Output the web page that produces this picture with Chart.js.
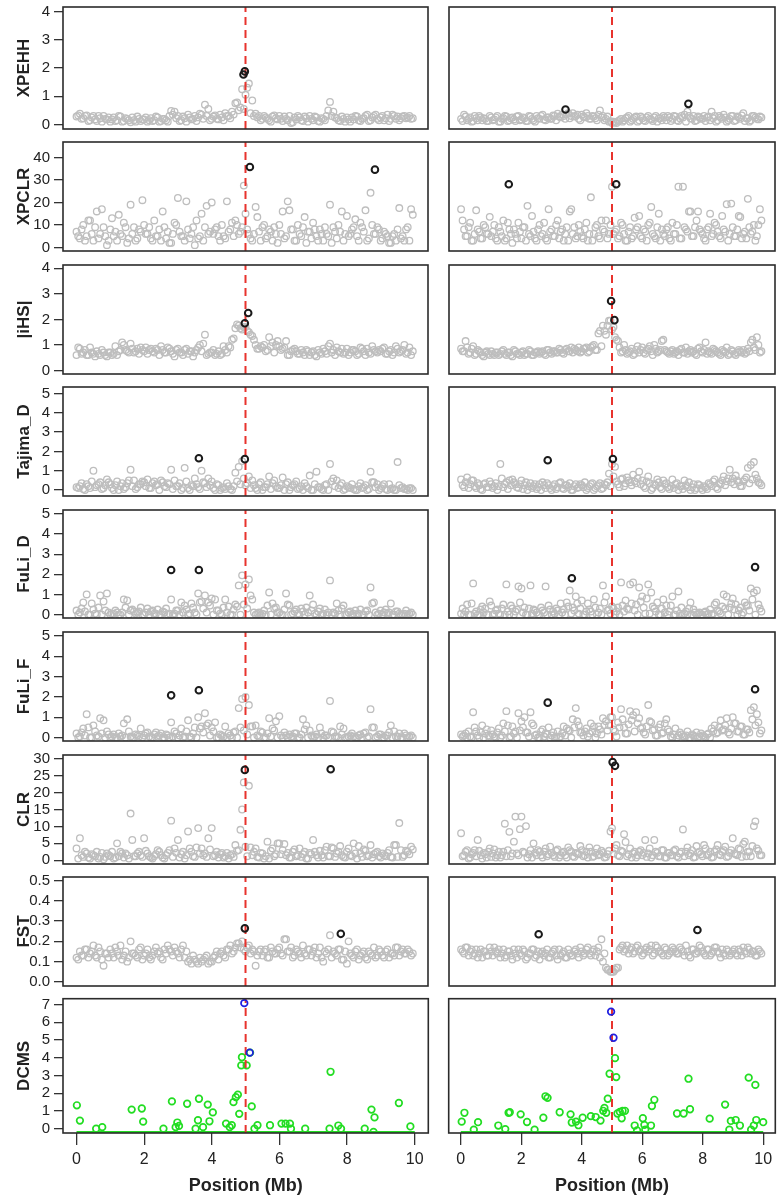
<!DOCTYPE html>
<html>
<head>
<meta charset="utf-8">
<script src="https://cdn.jsdelivr.net/npm/chart.js@4.4.1/dist/chart.umd.min.js"></script>
<style>
html, body { margin: 0; padding: 0; background: #fff; }
body { width: 780px; height: 1197px; position: relative; overflow: hidden; }
.panel { position: absolute; }
</style>
</head>
<body>
<script>
// window positions (Mb), two interleaved sets of windows
const posA = [0.0,0.1,0.2,0.3,0.4,0.5,0.6,0.7,0.8,0.9,1.0,1.1,1.2,1.3,1.4,1.5,1.6,1.7,1.8,1.9,
  2.0,2.1,2.2,2.3,2.4,2.5,2.6,2.7,2.8,2.9,3.0,3.1,3.2,3.3,3.4,3.5,3.6,3.7,3.8,3.9,
  4.0,4.1,4.2,4.3,4.4,4.5,4.6,4.7,4.8,4.9,5.0,5.1,5.2,5.3,5.4,5.5,5.6,5.7,5.8,5.9,
  6.0,6.1,6.2,6.3,6.4,6.5,6.6,6.7,6.8,6.9,7.0,7.1,7.2,7.3,7.4,7.5,7.6,7.7,7.8,7.9,
  8.0,8.1,8.2,8.3,8.4,8.5,8.6,8.7,8.8,8.9,9.0,9.1,9.2,9.3,9.4,9.5,9.6,9.7,9.8,9.9];
const posB = [0.05,0.15,0.25,0.35,0.45,0.55,0.65,0.75,0.85,0.95,1.05,1.15,1.25,1.35,1.45,1.55,1.65,1.75,1.85,1.95,
  2.05,2.15,2.25,2.35,2.45,2.55,2.65,2.75,2.85,2.95,3.05,3.15,3.25,3.35,3.45,3.55,3.65,3.75,3.85,3.95,
  4.05,4.15,4.25,4.35,4.45,4.55,4.65,4.75,4.85,4.95,5.05,5.15,5.25,5.35,5.45,5.55,5.65,5.75,5.85,5.95,
  6.05,6.15,6.25,6.35,6.45,6.55,6.65,6.75,6.85,6.95,7.05,7.15,7.25,7.35,7.45,7.55,7.65,7.75,7.85,7.95,
  8.05,8.15,8.25,8.35,8.45,8.55,8.65,8.75,8.85,8.95,9.05,9.15,9.25,9.35,9.45,9.55,9.65,9.75,9.85,9.95];

// XPEHH
const xpehhLA = [0.28,0.38,0.22,0.32,0.15,0.3,0.12,0.22,0.3,0.18, 0.1,0.25,0.15,0.28,0.12,0.2,0.08,0.15,0.28,0.12,
  0.18,0.1,0.22,0.15,0.25,0.12,0.2,0.1,0.48,0.45, 0.3,0.15,0.22,0.35,0.18,0.3,0.25,0.35,0.7,0.55,
  0.2,0.32,0.18,0.25,0.4,0.3,0.45,0.75,0.5,1.25, 1.05,1.45,0.85,0.38,0.3,0.2,0.25,0.15,0.28,0.22,
  0.3,0.12,0.2,0.3,0.08,0.18,0.25,0.12,0.22,0.3, 0.15,0.25,0.1,0.2,0.3,0.8,0.45,0.22,0.12,0.2,
  0.25,0.1,0.18,0.28,0.12,0.22,0.35,0.15,0.3,0.2, 0.25,0.15,0.35,0.2,0.3,0.28,0.22,0.3,0.25,0.2];
const xpehhLB = [0.32,0.2,0.3,0.12,0.25,0.18,0.3,0.1,0.2,0.25, 0.18,0.12,0.3,0.1,0.22,0.15,0.25,0.1,0.2,0.18,
  0.25,0.15,0.12,0.28,0.1,0.2,0.15,0.3,0.35,0.22, 0.12,0.28,0.1,0.25,0.2,0.12,0.38,0.2,0.3,0.15,
  0.28,0.2,0.35,0.15,0.3,0.22,0.35,0.78,0.6,0.55, 1.3,0.4,0.3,0.25,0.15,0.3,0.2,0.1,0.32,0.18,
  0.2,0.28,0.15,0.05,0.25,0.3,0.15,0.28,0.1,0.2, 0.28,0.12,0.22,0.15,0.5,0.3,0.25,0.15,0.28,0.1,
  0.18,0.25,0.3,0.15,0.2,0.3,0.12,0.25,0.35,0.15, 0.3,0.22,0.12,0.35,0.2,0.15,0.28,0.22,0.3,0.22];
const xpehhLHi = [[4.94,1.77],[4.98,1.88]];
const xpehhRA = [0.2,0.35,0.15,0.25,0.12,0.22,0.3,0.15,0.2,0.12, 0.25,0.18,0.3,0.1,0.22,0.28,0.15,0.25,0.12,0.3,
  0.18,0.22,0.12,0.28,0.15,0.3,0.2,0.35,0.15,0.25, 0.2,0.3,0.38,0.25,0.3,0.35,0.22,0.4,0.3,0.2,
  0.35,0.25,0.3,0.2,0.28,0.15,0.5,0.3,0.2,0.1, 0.05,0.08,0.12,0.2,0.15,0.25,0.1,0.2,0.28,0.15,
  0.22,0.12,0.3,0.18,0.25,0.1,0.22,0.3,0.15,0.25, 0.2,0.28,0.12,0.3,0.35,0.45,0.22,0.3,0.15,0.25,
  0.2,0.12,0.28,0.45,0.3,0.15,0.25,0.35,0.1,0.2, 0.3,0.15,0.25,0.32,0.12,0.22,0.15,0.3,0.2,0.28];
const xpehhRB = [0.12,0.28,0.2,0.1,0.3,0.15,0.25,0.22,0.12,0.3, 0.15,0.25,0.1,0.2,0.3,0.12,0.22,0.18,0.28,0.15,
  0.25,0.12,0.3,0.2,0.1,0.22,0.3,0.18,0.25,0.2, 0.32,0.15,0.28,0.35,0.2,0.4,0.3,0.28,0.35,0.15,
  0.28,0.4,0.2,0.3,0.22,0.35,0.25,0.15,0.28,0.12, 0.1,0.05,0.15,0.1,0.22,0.3,0.15,0.25,0.1,0.28,
  0.15,0.25,0.2,0.12,0.3,0.22,0.15,0.25,0.3,0.12, 0.3,0.15,0.22,0.25,0.1,0.3,0.2,0.12,0.28,0.2,
  0.3,0.25,0.15,0.22,0.1,0.3,0.2,0.25,0.15,0.3, 0.12,0.28,0.2,0.4,0.22,0.1,0.3,0.25,0.18,0.25];
const xpehhRHi = [[3.46,0.53],[7.53,0.73]];

// XPCLR
const xpclrLA = [7,4,10,5,12,3,16,6,9,1, 8,5,3,6,11,2,19,9,4,7, 10,6,4,12,5,3,9,7,2,11, 22,5,3,8,6,1,4,15,9,6,
  20,8,5,10,4,7,11,12,6,9, 15,6,3,18,7,9,4,8,3,6, 10,16,5,16.5,8,3,6,9,2,7, 11,5,8,3,6,19,9,4,7,3,
  14,6,9,5,11,7,3,24.3,6,9, 3,7,5,2,6,8,4,3,9,17];
const xpclrLB = [5,8,3,12,6,9,4,17,5,3, 13,7,14.5,5,9,4,6,3,8,21, 6,9,3,5,8,16,4,2,6,10, 7,5,20.5,4,9,12,5,3,18.5,7,
  6,9,3,5,20.5,8,5,10,7,27.5, 8,4,6,13.5,3,10,5,7,9,2, 6,4,20.5,8,3,10,5,13.5,7,4, 8,3,6,9,5,2,7,10,16,6,
  5,8,12.5,3,9,16.5,4,10,6,8, 4,6,2,5,3,17.5,5,8,3,14.5];
const xpclrLHi = [[5.13,35.8],[8.83,34.6]];
const xpclrRA = [17,8,5,11,3,16.5,7,4,9,6, 5,10,3,7,12,4,8,2,6,11, 4,9,18.5,5,7,3,10,6,4,17, 8,5,12,7,3,9,16,6,4,10,
  5,8,3,22.3,6,10,4,8,12,6, 27,7,4,11,6,3,9,5,8,14, 4,7,10,18,5,9,3,6,8,4, 11,6,27,4,9,7,16,5,12,8,
  6,3,9,5,11,7,4,8,19.2,6, 9,5,14,4,7,21.6,6,10,5,17];
const xpclrRB = [12,5,9,3,6,8,4,10,6,13.6, 7,4,9,5,3,11,6,8,4,7, 9,3,6,14,4,8,5,11,3,7, 5,10,4,8,6,3,17,9,5,7,
  4,11,6,3,9,5,12,7,4,10, 6,8,5,10,3,7,4,13.2,9,5, 8,3,11,6,4,15,8,5,9,3, 6,10,4,27,8,16,5,9,16,7,
  4,8,15,6,10,5,14,7,3,19.5, 5,8,13.5,6,4,9,7,3,10,12];
const xpclrRHi = [[1.58,28.1],[5.14,28.1]];

// |iHS|
const ihsLA = [0.6,0.85,0.7,0.6,0.9,0.65,0.75,0.6,0.7,0.55, 0.7,0.65,0.6,0.8,1.0,0.75,1.05,0.7,0.85,0.9,
  0.75,0.65,0.85,0.7,0.8,0.95,0.7,0.9,0.75,0.55, 0.85,0.7,0.8,0.65,0.75,0.7,0.9,0.75,1.4,0.65,
  0.7,0.6,0.75,0.65,0.8,0.95,1.2,1.65,1.75,1.6, 1.7,1.5,1.35,1.0,0.85,0.9,0.75,1.3,1.1,1.0,
  0.95,0.85,1.15,0.6,0.8,0.75,0.65,0.7,0.8,0.6, 0.75,0.55,0.7,0.85,0.65,1.05,0.8,0.9,0.7,0.65,
  0.85,0.7,0.8,0.6,0.9,0.75,0.85,0.65,0.8,0.7, 0.75,0.9,0.65,0.8,0.7,0.85,0.75,1.0,0.7,0.6];
const ihsLB = [0.9,0.65,0.8,0.6,0.7,0.55,0.65,0.8,0.6,0.7, 0.6,0.95,0.75,1.1,0.8,0.7,0.85,0.75,0.65,0.8,
  0.9,0.8,0.75,0.85,0.6,0.8,0.7,0.85,0.65,0.8, 0.7,0.6,0.85,0.75,0.55,0.8,1.0,1.05,0.6,0.7,
  0.8,0.65,0.6,0.95,0.7,0.9,1.25,1.8,1.65,1.7, 1.55,1.4,1.2,0.85,0.95,1.0,0.8,0.95,0.7,1.15,
  0.8,0.9,0.6,0.75,0.85,0.65,0.8,0.6,0.75,0.7, 0.6,0.8,0.65,0.75,0.95,0.7,0.6,0.75,0.85,0.7,
  0.6,0.8,0.75,0.65,0.85,0.6,0.7,0.95,0.75,0.8, 0.85,0.65,0.75,0.6,0.95,0.7,0.8,0.65,0.9,0.75];
const ihsLHi = [[4.98,1.85],[5.08,2.25]];
const ihsRA = [0.85,0.75,0.9,0.7,0.95,0.65,0.75,0.6,0.7,0.65, 0.75,0.6,0.7,0.65,0.8,0.6,0.7,0.55,0.75,0.65,
  0.7,0.6,0.65,0.75,0.6,0.7,0.65,0.75,0.6,0.8, 0.65,0.75,0.7,0.8,0.65,0.85,0.75,0.7,0.8,0.9,
  0.75,0.85,0.7,0.9,1.0,0.8,1.55,1.75,1.4,1.95, 1.6,1.3,1.15,0.7,1.0,0.65,0.75,0.6,0.8,0.7,
  0.9,0.65,0.85,0.75,1.0,0.7,0.8,1.2,0.75,0.65, 0.8,0.7,0.6,0.85,0.7,0.65,0.8,0.75,0.6,0.9,
  0.7,1.1,0.75,0.65,0.8,0.7,0.6,0.75,0.9,0.65, 0.75,0.6,0.8,0.7,0.65,0.85,1.1,0.9,1.3,0.7];
const ihsRB = [0.75,1.15,0.65,0.85,0.6,0.8,0.7,0.55,0.75,0.6, 0.65,0.7,0.6,0.75,0.65,0.7,0.6,0.8,0.65,0.6,
  0.75,0.65,0.8,0.6,0.7,0.75,0.7,0.65,0.8,0.7, 0.75,0.7,0.85,0.7,0.8,0.75,0.9,0.85,0.75,0.7,
  0.85,0.9,0.75,0.95,0.8,1.45,0.95,1.55,1.75,1.95, 1.7,1.2,0.9,0.75,0.8,0.7,0.85,0.65,0.95,0.8,
  0.7,0.8,0.95,0.6,0.85,0.75,1.15,0.8,0.7,0.75, 0.65,0.75,0.8,0.7,0.9,0.75,0.7,0.65,0.85,0.75,
  0.8,0.65,0.7,0.85,0.75,0.65,0.8,0.7,0.6,0.8, 0.65,0.7,0.75,0.8,0.7,0.75,1.2,0.8,1.0,0.75];
const ihsRHi = [[4.97,2.72],[5.08,1.97]];

// Tajima_D
const tajLA = [0.15,0.2,0.05,0.3,0.1,1.0,0.25,0.4,0.1,0.55, 0.3,0.0,0.45,0.2,0.05,0.35,1.05,0.5,0.15,0.3,
  0.4,0.55,0.1,0.45,0.3,0.5,0.2,0.35,1.05,0.5, 0.2,0.0,1.15,0.1,0.25,0.6,0.15,1.0,0.35,0.6,
  0.45,0.0,0.25,0.1,0.05,0.2,0.0,0.9,1.2,1.5, 0.25,0.7,0.5,0.1,0.3,0.0,0.15,0.7,0.35,0.2,
  0.1,0.65,0.3,0.0,0.25,0.45,0.1,0.0,0.2,0.75, 0.0,0.95,0.15,0.0,0.3,1.35,0.6,0.5,0.25,0.0,
  0.2,0.1,0.05,0.0,0.35,0.15,0.0,0.95,0.4,0.3, 0.1,0.3,0.0,0.05,0.0,1.45,0.1,0.05,0.0,0.1];
const tajLB = [0.1,0.35,0.0,0.2,0.45,0.15,0.3,0.05,0.25,0.4, 0.1,0.25,0.0,0.35,0.15,0.5,0.2,0.05,0.3,0.45,
  0.2,0.1,0.35,0.25,0.0,0.4,0.15,0.3,0.05,0.2, 0.35,0.1,0.45,0.0,0.2,0.3,0.05,0.4,0.15,0.25,
  0.1,0.3,0.0,0.15,0.35,0.05,0.2,0.45,0.3,0.6, 0.35,0.1,0.25,0.0,0.4,0.15,0.3,0.05,0.5,0.1,
  0.25,0.0,0.4,0.15,0.3,0.05,0.2,0.35,0.1,0.0, 0.3,0.15,0.05,0.25,0.0,0.45,0.2,0.1,0.35,0.05,
  0.15,0.3,0.0,0.2,0.1,0.25,0.05,0.4,0.15,0.0, 0.2,0.05,0.3,0.1,0.0,0.25,0.15,0.05,0.1,0.0];
const tajLHi = [[3.62,1.65],[4.98,1.6]];
const tajRA = [0.55,0.15,0.65,0.3,0.5,0.1,0.25,0.0,0.35,0.15, 0.3,0.2,0.0,1.35,0.15,0.4,0.5,0.55,0.3,0.1,
  0.5,0.25,0.0,0.35,0.2,0.05,0.3,0.4,0.1,0.25, 0.0,0.3,0.15,0.4,0.05,0.25,0.35,0.0,0.3,0.15,
  0.25,0.4,0.1,0.3,0.0,0.2,0.35,0.1,0.25,0.85, 1.35,1.2,0.3,0.55,0.2,0.65,0.4,0.8,0.35,0.95,
  0.5,0.1,0.7,0.0,0.3,0.55,0.15,0.5,0.35,0.05, 0.55,0.3,0.0,0.2,0.5,0.15,0.0,0.3,0.1,0.25,
  0.0,0.15,0.35,0.2,0.55,0.05,0.3,0.7,0.45,1.05, 0.6,0.75,0.4,0.2,0.55,1.15,1.3,1.45,0.6,0.35];
const tajRB = [0.25,0.4,0.1,0.5,0.2,0.35,0.05,0.3,0.15,0.45, 0.1,0.35,0.2,0.6,0.3,0.05,0.25,0.4,0.15,0.3,
  0.05,0.4,0.2,0.1,0.3,0.15,0.0,0.25,0.35,0.1, 0.2,0.05,0.35,0.1,0.25,0.15,0.0,0.2,0.1,0.3,
  0.15,0.0,0.2,0.35,0.1,0.25,0.05,0.3,0.4,0.2, 0.7,0.45,0.15,0.6,0.35,0.5,0.25,0.45,0.6,0.3,
  0.2,0.45,0.35,0.1,0.25,0.4,0.05,0.3,0.15,0.2, 0.1,0.35,0.2,0.05,0.25,0.4,0.15,0.0,0.3,0.1,
  0.2,0.05,0.3,0.45,0.15,0.35,0.5,0.25,0.6,0.4, 0.3,0.5,0.2,0.45,0.65,0.35,0.55,0.8,0.4,0.25];
const tajRHi = [[2.87,1.54],[5.03,1.61]];

// FuLi_D
const fldLA = [0.2,0.1,0.6,1.0,0.0,0.25,0.0,0.95,0.65,1.05, 0.0,0.05,0.1,0.0,0.75,0.7,0.2,0.15,0.1,0.35,
  0.0,0.3,0.15,0.05,0.25,0.0,0.1,0.0,0.75,0.05, 0.2,0.6,0.45,0.0,0.55,0.1,1.05,0.65,0.95,0.6,
  0.8,0.75,0.2,0.0,0.75,0.4,0.0,0.5,1.45,1.95, 1.5,1.75,0.75,0.0,0.1,0.05,0.0,1.1,0.55,0.35,
  0.1,0.0,1.05,0.45,0.05,0.25,0.0,0.15,0.35,0.95, 0.5,0.0,0.3,0.05,0.0,1.7,0.1,0.55,0.0,0.45,
  0.0,0.15,0.05,0.0,0.25,0.0,0.2,1.35,0.6,0.0, 0.2,0.1,0.05,0.55,0.0,0.15,0.0,0.05,0.0,0.1];
const fldLB = [0.0,0.3,0.15,0.0,0.55,0.05,0.35,0.0,0.2,0.1, 0.05,0.2,0.0,0.1,0.35,0.0,0.25,0.05,0.15,0.0,
  0.1,0.0,0.2,0.05,0.0,0.15,0.3,0.05,0.0,0.2, 0.0,0.1,0.25,0.05,0.35,0.0,0.6,0.3,0.1,0.45,
  0.0,0.2,0.05,0.35,0.1,0.0,0.25,0.4,0.0,0.5, 0.3,0.95,0.1,0.05,0.0,0.2,0.45,0.0,0.3,0.1,
  0.0,0.25,0.5,0.0,0.15,0.05,0.3,0.0,0.1,0.2, 0.05,0.15,0.0,0.25,0.1,0.0,0.05,0.2,0.3,0.0,
  0.1,0.0,0.2,0.05,0.0,0.15,0.0,0.55,0.1,0.05, 0.0,0.25,0.1,0.0,0.15,0.05,0.0,0.2,0.05,0.0];
const fldLHi = [[2.8,2.22],[3.62,2.22]];
const fldRA = [0.05,0.0,0.5,0.0,1.55,0.15,0.0,0.4,0.3,0.0, 0.45,0.05,0.25,0.0,0.5,1.5,0.0,0.3,0.15,1.4,
  1.3,0.35,0.0,1.45,0.25,0.1,0.0,0.2,1.4,0.45, 0.0,0.05,0.2,0.55,0.25,0.6,1.2,0.35,0.9,0.05,
  0.7,0.0,0.55,0.15,0.75,0.0,0.3,1.45,0.9,0.25, 0.4,0.0,0.35,1.6,0.15,0.3,1.5,1.6,0.5,1.35,
  0.9,0.05,1.5,1.1,0.3,0.6,0.0,0.75,0.45,0.15, 0.9,0.0,1.15,0.35,0.05,0.0,0.6,0.25,0.0,0.1,
  0.0,0.15,0.05,0.0,0.5,0.2,0.05,1.0,0.9,0.35, 0.8,0.5,0.2,0.0,0.6,0.45,1.3,1.1,1.2,0.3];
const fldRB = [0.3,0.15,0.0,0.55,0.05,0.0,0.25,0.1,0.0,0.65, 0.0,0.2,0.05,0.3,0.0,0.15,0.45,0.0,0.25,0.6,
  0.1,0.0,0.3,0.05,0.2,0.0,0.35,0.1,0.0,0.25, 0.15,0.3,0.0,0.1,0.0,0.4,0.05,0.2,0.55,0.3,
  0.0,0.15,0.25,0.0,0.35,0.1,0.0,0.6,0.2,0.05, 0.3,0.15,0.0,0.45,0.7,0.25,0.55,0.2,0.0,0.65,
  0.35,0.8,0.05,0.4,0.15,0.0,0.3,0.1,0.0,0.45, 0.0,0.2,0.05,0.0,0.15,0.3,0.0,0.1,0.05,0.0,
  0.1,0.0,0.25,0.05,0.6,0.15,0.4,0.3,0.0,0.55, 0.25,0.0,0.35,0.1,0.45,0.2,0.75,0.0,0.5,0.15];
const fldRHi = [[3.67,1.81],[9.74,2.36]];

// FuLi_F
const flfLA = [0.2,0.05,0.45,1.15,0.0,0.6,0.1,0.95,0.85,0.3, 0.0,0.15,0.0,0.05,0.7,0.9,0.05,0.0,0.1,0.45,
  0.1,0.25,0.0,0.15,0.05,0.2,0.0,0.1,0.75,0.3, 0.0,0.45,0.05,0.85,0.0,0.5,1.0,0.55,1.2,0.7,
  0.5,0.75,0.0,0.1,0.55,0.2,0.0,0.3,1.45,1.9, 2.0,1.6,0.55,0.6,0.05,0.25,0.0,0.95,0.45,0.8,
  1.05,0.0,0.1,0.15,0.05,0.2,0.0,0.9,0.6,0.35, 0.0,0.15,0.5,0.0,0.1,1.8,0.25,0.05,0.55,0.45,
  0.0,0.1,0.05,0.0,0.15,0.2,0.0,1.4,0.5,0.05, 0.15,0.0,0.1,0.6,0.3,0.05,0.0,0.2,0.0,0.1];
const flfLB = [0.0,0.25,0.1,0.5,0.0,0.3,0.05,0.2,0.0,0.15, 0.05,0.0,0.2,0.1,0.0,0.3,0.0,0.15,0.05,0.0,
  0.2,0.05,0.0,0.25,0.1,0.0,0.15,0.0,0.05,0.2, 0.1,0.0,0.3,0.05,0.2,0.0,0.45,0.25,0.6,0.1,
  0.3,0.0,0.15,0.05,0.0,0.1,0.25,0.0,0.5,0.35, 0.15,0.55,0.0,0.1,0.3,0.0,0.2,0.05,0.35,0.0,
  0.1,0.25,0.0,0.05,0.2,0.0,0.15,0.4,0.0,0.1, 0.05,0.0,0.2,0.1,0.0,0.3,0.05,0.0,0.15,0.0,
  0.05,0.2,0.0,0.1,0.0,0.25,0.05,0.5,0.0,0.15, 0.0,0.1,0.25,0.0,0.05,0.2,0.0,0.1,0.05,0.0];
const flfLHi = [[2.8,2.08],[3.62,2.33]];
const flfRA = [0.15,0.1,0.0,0.05,1.25,0.3,0.0,0.6,0.2,0.1, 0.35,0.05,0.25,0.0,0.7,1.3,0.0,0.55,0.3,1.2,
  0.8,1.0,0.25,1.25,0.6,0.15,0.0,0.4,0.2,0.5, 0.1,0.0,0.3,0.05,0.55,0.45,0.35,0.9,1.45,0.6,
  0.25,0.3,0.05,0.7,0.55,0.2,0.4,0.95,0.8,0.6, 1.0,0.3,0.75,1.4,0.5,0.2,1.3,1.1,1.25,0.95,
  0.5,0.15,1.6,0.75,0.4,0.1,0.65,0.25,0.9,0.3, 0.0,0.45,0.1,0.15,0.05,0.3,0.0,0.1,0.25,0.05,
  0.1,0.0,0.2,0.45,0.6,0.25,0.85,0.4,0.95,0.15, 1.0,0.7,0.3,0.55,0.15,0.4,1.35,1.5,1.15,0.2];
const flfRB = [0.05,0.2,0.3,0.0,0.5,0.1,0.25,0.0,0.4,0.05, 0.15,0.0,0.45,0.1,0.3,0.6,0.05,0.2,0.0,0.35,
  0.5,0.25,0.05,0.7,0.1,0.0,0.3,0.05,0.15,0.0, 0.25,0.05,0.0,0.2,0.1,0.35,0.0,0.5,0.8,0.25,
  0.1,0.45,0.2,0.3,0.0,0.55,0.15,0.6,0.35,1.0, 0.4,0.05,0.5,0.9,0.2,0.65,0.85,0.3,0.7,0.45,
  0.25,0.55,0.8,0.35,0.1,0.5,0.2,0.7,0.4,0.05, 0.15,0.0,0.25,0.05,0.1,0.0,0.15,0.05,0.0,0.2,
  0.05,0.15,0.0,0.3,0.2,0.5,0.35,0.6,0.25,0.45, 0.7,0.3,0.55,0.15,0.4,0.25,0.9,0.6,0.75,0.35];
const flfRHi = [[2.87,1.72],[9.74,2.38]];

// CLR
const clrLA = [3.5,6.5,1.0,2.0,0.5,1.5,2.5,1.0,0.3,2.0, 1.2,0.5,5.0,2.5,0.8,1.5,13.8,1.2,2.0,1.5,
  6.5,2.0,0.8,1.2,3.0,1.5,0.5,2.2,11.7,3.5, 6.0,1.8,0.5,8.5,2.5,1.0,9.5,3.5,2.0,6.5,
  9.5,1.5,0.8,2.2,1.2,0.5,1.8,4.5,3.0,15.0, 4.0,22.0,1.5,3.5,0.8,2.0,1.2,0.5,3.5,1.8,
  5.0,3.0,1.5,0.8,2.5,1.2,3.5,1.8,0.5,2.2, 6.0,1.5,2.8,0.8,4.0,1.2,3.5,2.0,4.2,1.0,
  2.5,1.5,5.0,0.5,2.0,3.2,1.2,4.5,1.8,2.5, 0.8,1.5,2.2,1.0,4.5,1.0,3.0,1.5,2.5,4.0];
const clrLB = [0.5,1.5,2.5,0.8,1.8,1.2,0.5,2.2,1.0,1.5, 2.5,0.8,1.2,2.0,2.0,0.5,6.0,1.2,2.5,1.0,
  2.8,1.2,0.5,1.8,2.5,0.8,1.5,3.0,1.0,2.2, 0.8,2.5,1.5,3.5,1.2,3.8,2.0,1.5,1.0,3.2,
  1.2,2.5,1.8,0.8,2.2,1.5,1.0,2.8,9.0,23.0, 1.2,3.8,2.5,1.0,2.2,0.5,5.5,2.8,1.2,5.0,
  1.8,4.8,2.2,0.8,3.2,1.5,1.0,2.5,0.5,1.8, 2.5,0.8,1.5,3.0,1.2,3.8,1.0,2.5,1.5,0.8,
  3.5,1.2,2.0,4.2,1.0,2.8,1.5,0.8,2.2,1.2, 2.0,1.2,3.0,0.8,4.5,11.0,1.0,2.8,1.8,3.2];
const clrLHi = [[4.98,26.7],[7.52,26.9]];
const clrRA = [8.0,1.5,3.0,0.8,2.2,1.2,2.8,0.5,1.8,2.5, 1.0,3.2,1.5,0.8,2.5,1.2,8.4,2.0,12.9,1.5,
  12.9,2.2,0.8,3.0,5.0,1.5,2.5,0.8,3.5,1.8, 2.2,1.0,3.2,1.5,2.5,0.8,3.0,1.2,2.2,1.8,
  3.0,1.5,0.8,2.5,1.2,3.5,1.8,2.2,1.0,2.8, 9.5,3.5,1.5,2.8,7.7,1.2,3.5,2.0,0.8,2.5,
  1.5,6.0,2.0,0.8,6.0,2.2,1.2,3.0,0.8,2.2, 1.5,3.2,0.8,2.5,1.2,3.8,2.0,0.8,4.2,2.5,
  1.2,3.5,1.8,0.8,2.5,4.5,1.5,3.0,1.0,2.2, 6.5,1.8,3.5,1.0,5.5,2.5,1.2,10.1,3.5,1.5];
const clrRB = [1.2,2.5,0.5,1.8,3.0,6.0,1.5,2.2,0.8,3.5, 2.0,0.8,2.5,1.5,10.8,3.0,1.2,5.5,2.0,9.2,
  2.5,10.1,1.8,0.8,2.2,3.0,1.5,2.5,1.2,4.0, 1.5,2.8,0.8,2.2,1.5,3.8,2.5,1.0,2.0,4.2,
  1.2,2.5,3.8,1.0,2.2,1.5,2.8,0.8,1.8,8.5, 2.0,4.5,1.2,2.5,5.4,1.8,0.8,2.5,1.5,3.0,
  2.2,1.0,3.5,1.5,2.5,1.2,3.0,0.8,2.2,1.5, 2.8,1.2,2.0,9.1,2.5,1.5,3.0,1.0,2.2,1.8,
  4.5,1.5,2.5,1.0,3.2,1.8,2.5,4.0,1.2,3.0, 2.0,1.5,3.2,4.8,1.2,2.5,4.2,11.5,2.8,1.5];
const clrRHi = [[5.02,29.0],[5.1,27.9]];

// FST
const fstLA = [0.12,0.15,0.13,0.16,0.14,0.18,0.12,0.15,0.08,0.14, 0.16,0.12,0.15,0.18,0.13,0.1,0.2,0.14,0.12,0.17,
  0.13,0.16,0.11,0.15,0.14,0.12,0.16,0.18,0.15,0.17, 0.14,0.16,0.12,0.1,0.09,0.11,0.09,0.1,0.12,0.09,
  0.1,0.13,0.11,0.15,0.12,0.16,0.14,0.17,0.19,0.2, 0.15,0.18,0.16,0.08,0.15,0.13,0.16,0.12,0.15,0.14,
  0.17,0.13,0.21,0.15,0.12,0.16,0.14,0.18,0.13,0.16, 0.15,0.12,0.17,0.1,0.14,0.23,0.15,0.13,0.16,0.11,
  0.09,0.14,0.12,0.16,0.13,0.15,0.11,0.14,0.17,0.13, 0.15,0.12,0.16,0.14,0.13,0.17,0.15,0.14,0.16,0.13];
const fstLB = [0.11,0.13,0.16,0.12,0.15,0.13,0.17,0.11,0.14,0.12, 0.14,0.17,0.13,0.11,0.15,0.12,0.14,0.13,0.16,0.11,
  0.14,0.12,0.13,0.17,0.15,0.11,0.14,0.16,0.13,0.15, 0.12,0.18,0.15,0.11,0.13,0.1,0.12,0.11,0.13,0.1,
  0.12,0.15,0.14,0.13,0.16,0.18,0.15,0.19,0.17,0.16, 0.17,0.14,0.15,0.13,0.16,0.15,0.12,0.17,0.14,0.16,
  0.14,0.21,0.15,0.17,0.13,0.15,0.12,0.14,0.16,0.13, 0.17,0.14,0.12,0.15,0.16,0.12,0.14,0.16,0.11,0.15,
  0.2,0.13,0.15,0.11,0.14,0.12,0.15,0.13,0.12,0.16, 0.13,0.15,0.12,0.14,0.17,0.13,0.16,0.14,0.15,0.14];
const fstLHi = [[4.98,0.264],[7.82,0.237]];
const fstRA = [0.16,0.14,0.17,0.15,0.13,0.16,0.14,0.12,0.15,0.13, 0.15,0.17,0.14,0.12,0.16,0.13,0.15,0.11,0.14,0.16,
  0.13,0.15,0.12,0.14,0.16,0.13,0.11,0.15,0.14,0.12, 0.14,0.16,0.11,0.13,0.15,0.12,0.14,0.13,0.16,0.12,
  0.15,0.14,0.17,0.13,0.16,0.15,0.12,0.1,0.07,0.06, 0.05,0.06,0.07,0.17,0.15,0.18,0.16,0.14,0.17,0.15,
  0.13,0.16,0.15,0.18,0.14,0.17,0.15,0.13,0.16,0.14, 0.17,0.15,0.14,0.16,0.13,0.15,0.12,0.16,0.14,0.18,
  0.15,0.13,0.16,0.14,0.17,0.15,0.12,0.14,0.16,0.13, 0.15,0.14,0.16,0.13,0.15,0.17,0.14,0.15,0.13,0.15];
const fstRB = [0.15,0.17,0.13,0.16,0.14,0.12,0.16,0.15,0.13,0.17, 0.13,0.15,0.16,0.14,0.12,0.15,0.13,0.16,0.12,0.14,
  0.16,0.11,0.14,0.16,0.12,0.15,0.14,0.13,0.16,0.12, 0.15,0.13,0.16,0.14,0.12,0.16,0.13,0.15,0.14,0.17,
  0.13,0.16,0.14,0.15,0.13,0.17,0.21,0.14,0.06,0.05, 0.05,0.07,0.16,0.18,0.16,0.14,0.17,0.15,0.18,0.16,
  0.14,0.17,0.16,0.13,0.18,0.15,0.14,0.17,0.13,0.15, 0.16,0.14,0.17,0.15,0.18,0.13,0.16,0.14,0.15,0.17,
  0.14,0.16,0.13,0.15,0.17,0.14,0.16,0.13,0.15,0.14, 0.16,0.13,0.15,0.17,0.14,0.16,0.15,0.13,0.16,0.14];
const fstRHi = [[2.57,0.235],[7.83,0.256]];

// DCMS (position, score)
const dcmsL = [[0.01,1.32],[0.1,0.46],[0.58,0.0],[0.76,0.09],[1.63,1.08],[1.93,1.14],[1.97,0.4],[2.57,0.0],
  [2.82,1.54],[2.93,0.09],[2.98,0.35],[3.03,0.16],[3.27,1.41],[3.52,0.0],[3.59,0.48],[3.62,1.69],[3.74,0.09],
  [3.88,1.36],[3.93,0.42],[4.03,0.92],[4.42,0.29],[4.53,0.09],[4.59,0.2],[4.64,1.5],[4.71,1.78],[4.77,1.92],
  [4.81,0.84],[4.87,3.57],[4.89,4.03],[5.03,3.57],[5.13,4.29],[5.18,1.26],[5.26,0.0],[5.35,0.2],[5.72,0.2],
  [6.06,0.29],[6.18,0.29],[6.31,0.29],[6.34,0.0],[6.76,0.0],[7.48,0.0],[7.51,3.21],[7.74,0.18],[7.82,0.0],
  [8.52,0.0],[8.72,1.08],[8.81,0.64],[8.78,-0.18],[9.53,1.45],[9.87,0.13]];
const dcmsLHi = [[4.96,7.08],[5.12,4.29]];
const dcmsR = [[0.03,0.4],[0.12,0.9],[0.43,-0.05],[0.57,0.37],[1.24,0.18],[1.47,-0.02],[1.58,0.9],[1.62,0.93],
  [1.98,0.81],[2.19,0.38],[2.44,-0.05],[2.73,0.62],[2.8,1.83],[2.87,1.74],[3.27,0.93],[3.63,0.81],[3.67,0.35],
  [3.81,0.4],[3.89,0.2],[4.03,0.62],[4.3,0.71],[4.46,0.66],[4.62,0.46],[4.71,1.01],[4.75,1.17],[4.81,0.9],
  [4.86,1.69],[4.92,3.1],[5.1,3.98],[5.14,2.91],[5.18,0.86],[5.26,0.95],[5.35,1.01],[5.32,0.59],[5.43,1.01],
  [5.75,0.18],[5.83,-0.09],[6.02,0.59],[6.07,0.22],[6.1,-0.05],[6.29,0.18],[6.32,1.28],[6.4,1.63],[7.15,0.86],
  [7.37,0.86],[7.58,1.1],[7.53,2.82],[8.23,0.57],[8.74,1.36],[8.88,-0.05],[8.93,0.44],[9.09,0.49],[9.23,0.18],
  [9.52,2.88],[9.74,2.47],[9.6,-0.05],[9.69,0.18],[9.77,0.49],[10.0,0.37]];
const dcmsRHi = [[4.97,6.6],[5.05,5.13]];
const dcmsFloor = [[0,-0.2],[10,-0.2]];

const stats = ['XPEHH', 'XPCLR', '|iHS|', 'Tajima_D', 'FuLi_D', 'FuLi_F', 'CLR', 'FST', 'DCMS'];
const yLimits = [[-0.16,4.16],[-1.6,46.9],[-0.14,4.13],[-0.31,5.34],[-0.17,5.2],[-0.17,5.2],[-1.1,31.1],[-0.02,0.517],[-0.24,7.33]];
const yTicks = [[0,1,2,3,4],[0,10,20,30,40],[0,1,2,3,4],[0,1,2,3,4,5],[0,1,2,3,4,5],[0,1,2,3,4,5],
  [0,5,10,15,20,25,30],[0,0.1,0.2,0.3,0.4,0.5],[0,1,2,3,4,5,6,7]];
const yTickLabels = [['0','1','2','3','4'],['0','10','20','30','40'],['0','1','2','3','4'],['0','1','2','3','4','5'],
  ['0','1','2','3','4','5'],['0','1','2','3','4','5'],['0','5','10','15','20','25','30'],
  ['0.0','0.1','0.2','0.3','0.4','0.5'],['0','1','2','3','4','5','6','7']];
const xTicks = [0, 2, 4, 6, 8, 10];
const xLimits = [-0.4, 10.4];
const focusPos = 5;

const grayPanels = [
  [[xpehhLA, xpehhLB, xpehhLHi], [xpehhRA, xpehhRB, xpehhRHi]],
  [[xpclrLA, xpclrLB, xpclrLHi], [xpclrRA, xpclrRB, xpclrRHi]],
  [[ihsLA, ihsLB, ihsLHi], [ihsRA, ihsRB, ihsRHi]],
  [[tajLA, tajLB, tajLHi], [tajRA, tajRB, tajRHi]],
  [[fldLA, fldLB, fldLHi], [fldRA, fldRB, fldRHi]],
  [[flfLA, flfLB, flfLHi], [flfRA, flfRB, flfRHi]],
  [[clrLA, clrLB, clrLHi], [clrRA, clrRB, clrRHi]],
  [[fstLA, fstLB, fstLHi], [fstRA, fstRB, fstRHi]]
];

// page layout (px)
const colBox = [[63, 431], [446, 778]];
const rowBox = [[4,132],[139,254],[262,377],[384,499],[507,621],[629,744],[752,867],[874,989],[996,1133]];
const PAD = 3, AXIS_W = 63, AXIS_H = 64;

Chart.defaults.font.family = '"Liberation Sans", Arial, Helvetica, sans-serif';
Chart.defaults.color = '#222';

const boxPlugin = {
  id: 'box',
  afterDraw(chart) {
    const a = chart.chartArea, ctx = chart.ctx;
    ctx.save();
    ctx.strokeStyle = '#2b2b2b';
    ctx.lineWidth = 1.6;
    ctx.strokeRect(a.left, a.top, a.right - a.left, a.bottom - a.top);
    ctx.restore();
  }
};

const zip = (xs, ys) => ys.map((y, i) => ({x: xs[i], y: y}));
const pairs = arr => arr.map(p => ({x: p[0], y: p[1]}));

function circles(data, color, width, order) {
  return {
    data: data, order: order,
    pointStyle: 'circle', pointRadius: 3.3, pointBorderWidth: width,
    pointBorderColor: color, pointBackgroundColor: 'rgba(0,0,0,0)',
    borderColor: color, backgroundColor: 'rgba(0,0,0,0)'
  };
}

function focusLine(row) {
  return {
    type: 'line', order: 1,
    data: [{x: focusPos, y: yLimits[row][0]}, {x: focusPos, y: yLimits[row][1]}],
    borderColor: '#e8332d', borderWidth: 2, borderDash: [8, 5],
    pointRadius: 0, fill: false
  };
}

function addPanel(col, row, datasets) {
  const [x0, x1] = colBox[col];
  const [y0, y1] = rowBox[row];
  const axW = col === 0 ? AXIS_W : 0;
  const axH = row === stats.length - 1 ? AXIS_H : 0;
  const div = document.createElement('div');
  div.className = 'panel';
  div.style.left = (x0 - axW - PAD) + 'px';
  div.style.top = (y0 - PAD) + 'px';
  div.style.width = (x1 - x0 + axW + 2 * PAD) + 'px';
  div.style.height = (y1 - y0 + axH + 2 * PAD) + 'px';
  const cv = document.createElement('canvas');
  div.appendChild(cv);
  document.body.appendChild(div);

  new Chart(cv, {
    type: 'scatter',
    data: {datasets: datasets},
    options: {
      responsive: true, maintainAspectRatio: false, animation: false,
      devicePixelRatio: 1, events: [],
      layout: {padding: PAD},
      plugins: {legend: {display: false}, tooltip: {enabled: false}},
      scales: {
        x: {
          type: 'linear', min: xLimits[0], max: xLimits[1], display: axH > 0,
          afterBuildTicks: s => { s.ticks = xTicks.map(v => ({value: v})); },
          afterFit: s => { s.height = axH; s.paddingLeft = 0; s.paddingRight = 0; },
          grid: {drawOnChartArea: false, drawTicks: true, tickLength: 12, color: '#333', lineWidth: 1.3},
          border: {display: false},
          ticks: {autoSkip: false, maxRotation: 0, padding: 5, color: '#222', font: {size: 16}},
          title: {display: true, text: 'Position (Mb)', color: '#222',
                  font: {size: 18, weight: 'bold'}, padding: {top: 0, bottom: 0}}
        },
        y: {
          type: 'linear', min: yLimits[row][0], max: yLimits[row][1], display: axW > 0,
          afterBuildTicks: s => { s.ticks = yTicks[row].map(v => ({value: v})); },
          afterFit: s => { s.width = axW; s.paddingTop = 0; s.paddingBottom = 0; },
          grid: {drawOnChartArea: false, drawTicks: true, tickLength: 9, color: '#333', lineWidth: 1.3},
          border: {display: false},
          ticks: {autoSkip: false, padding: 4, color: '#222', font: {size: 15},
                  callback: (v, i) => yTickLabels[row][i]},
          title: {display: true, text: stats[row], color: '#222',
                  font: {size: 17, weight: 'bold'}, padding: {top: 14, bottom: 0}}
        }
      }
    },
    plugins: [boxPlugin]
  });
}

grayPanels.forEach((rowPanels, row) => {
  rowPanels.forEach((p, col) => {
    const ds = [];
    ds.push(circles(zip(posA, p[0]), '#bebebe', 1.3, 3));
    if (p[1]) ds.push(circles(zip(posB, p[1]), '#bebebe', 1.3, 2));
    ds.push(focusLine(row));
    ds.push(circles(pairs(p[2]), '#1a1a1a', 2, 0));
    addPanel(col, row, ds);
  });
});

[[dcmsL, dcmsLHi], [dcmsR, dcmsRHi]].forEach((p, col) => {
  const row = stats.length - 1;
  addPanel(col, row, [
    {type: 'line', order: 3, data: pairs(dcmsFloor), borderColor: '#22dd22', borderWidth: 2.5, pointRadius: 0, fill: false},
    circles(pairs(p[0]), '#22dd22', 1.7, 2),
    focusLine(row),
    circles(pairs(p[1]), '#1f1fe0', 1.7, 0)
  ]);
});
</script>
</body>
</html>
